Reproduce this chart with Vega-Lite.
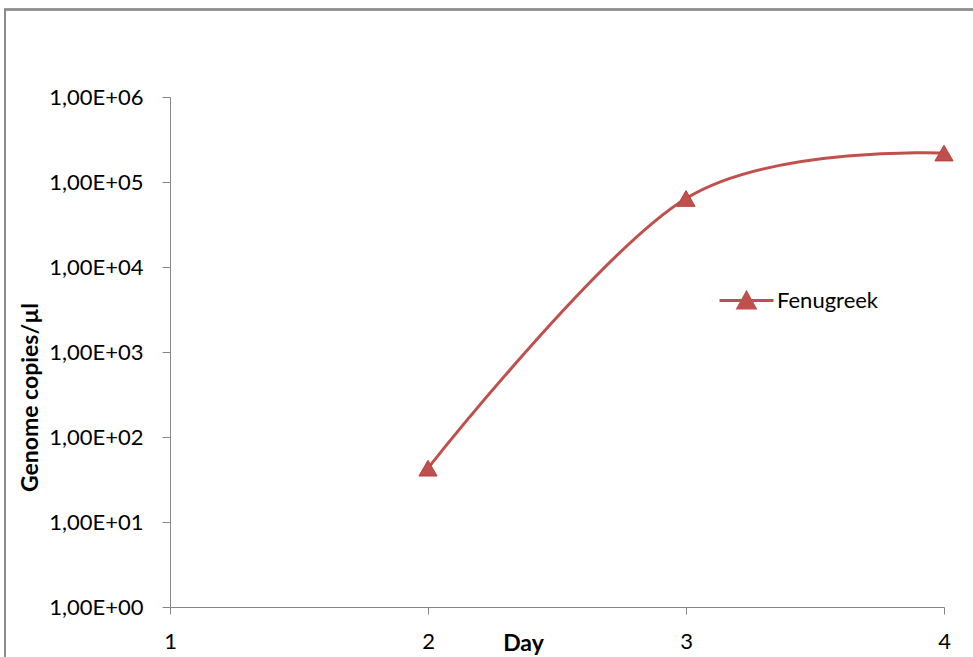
{
  "$schema": "https://vega.github.io/schema/vega-lite/v6.json",
  "autosize": "none",
  "width": 774,
  "height": 510,
  "padding": {"left": 170, "top": 97, "right": 29, "bottom": 50},
  "background": "white",
  "config": {
    "view": {"stroke": null},
    "font": "Lato",
    "axis": {"grid": false, "domainColor": "#868686", "tickColor": "#868686", "labelColor": "#000000", "labelFont": "Lato", "labelFontSize": 22, "titleFont": "Lato", "titleFontSize": 23, "titleFontWeight": "bold", "titleColor": "#000000"}
  },
  "data": {"values": [
    {"day": 2, "copies": 43, "series": "Fenugreek"},
    {"day": 3, "copies": 64000, "series": "Fenugreek"},
    {"day": 4, "copies": 219000, "series": "Fenugreek"}
  ]},
  "layer": [
    {
      "mark": {"type": "rect", "clip": false, "fillOpacity": 0, "stroke": "#8C8C8C", "strokeWidth": 2},
      "encoding": {
        "x": {"datum": 0.3605, "type": "quantitative"},
        "x2": {"datum": 5},
        "y": {"datum": 10700000, "type": "quantitative"},
        "y2": {"datum": 0.01}
      }
    },
    {
      "mark": {"type": "line", "interpolate": "cardinal", "strokeWidth": 3},
      "encoding": {
        "x": {"field": "day", "type": "quantitative", "scale": {"domain": [1, 4], "nice": false, "zero": false},
              "axis": {"values": [1, 2, 3, 4], "format": "d", "title": "Day", "tickSize": 7, "labelPadding": 17, "labelFlush": false, "titleX": 353, "titleY": 36, "titleBaseline": "middle", "titleAlign": "center"}},
        "y": {"field": "copies", "type": "quantitative", "scale": {"type": "log", "domain": [1, 1000000], "nice": false},
              "axis": {"values": [1, 10, 100, 1000, 10000, 100000, 1000000], "labelExpr": "'1,00E+0' + round(log(datum.value)/LN10)", "title": "Genome copies/µl", "tickSize": 8, "labelPadding": 19, "labelFlush": false, "titleAngle": 270, "titleX": -140, "titleY": 300, "titleAlign": "center", "titleBaseline": "middle"}},
        "color": {"field": "series", "type": "nominal", "scale": {"range": ["#C0504D"]},
                  "legend": {"title": null, "orient": "none", "legendX": 548, "legendY": 175, "padding": 0,
                             "symbolType": "M-1,0H1M-0.31,0.28L0,-0.28L0.31,0.28Z", "symbolSize": 2916, "symbolStrokeWidth": 3,
                             "symbolFillColor": "#C0504D",
                             "labelFontSize": 22, "labelFont": "Lato", "labelColor": "#000000", "labelOffset": 2}}
      }
    },
    {
      "mark": {"type": "point", "shape": "triangle-up", "filled": true, "size": 330, "opacity": 1, "stroke": "#B5403D", "strokeWidth": 1},
      "encoding": {
        "x": {"field": "day", "type": "quantitative"},
        "y": {"field": "copies", "type": "quantitative"},
        "color": {"field": "series", "type": "nominal", "scale": {"range": ["#C0504D"]},
                  "legend": {"title": null, "orient": "none", "legendX": 548, "legendY": 175, "padding": 0,
                             "symbolType": "M-1,0H1M-0.31,0.28L0,-0.28L0.31,0.28Z", "symbolSize": 2916, "symbolStrokeWidth": 3,
                             "symbolFillColor": "#C0504D",
                             "labelFontSize": 22, "labelFont": "Lato", "labelColor": "#000000", "labelOffset": 2}}
      }
    }
  ]
}
